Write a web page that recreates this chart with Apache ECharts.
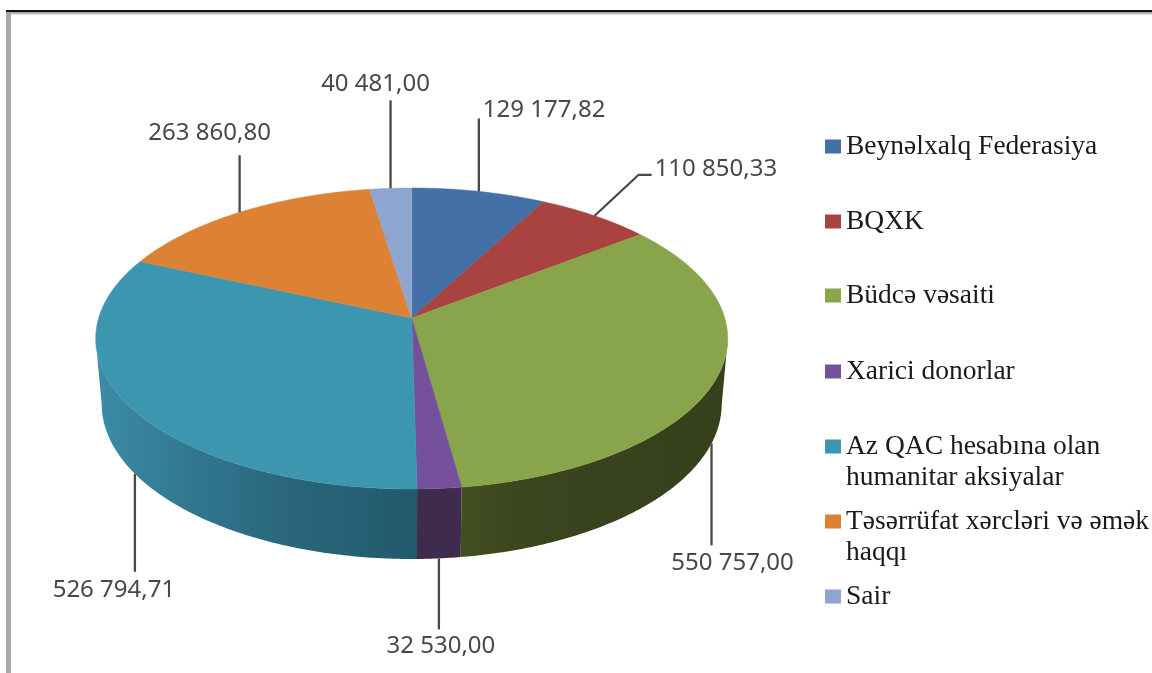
<!DOCTYPE html>
<html><head><meta charset="utf-8">
<style>html,body{margin:0;padding:0;background:#fff}#c{width:1152px;height:673px}</style>
<script src="https://cdn.jsdelivr.net/npm/echarts@6/dist/echarts.min.js"></script>
</head><body><div id="c"></div>
<script>
const categories = ['Beynəlxalq Federasiya','BQXK','Büdcə vəsaiti','Xarici donorlar','Az QAC hesabına olan\nhumanitar aksiyalar','Təsərrüfat xərcləri və əmək\nhaqqı','Sair'];
const values = [129177.82,110850.33,550757.00,32530.00,526794.71,263860.80,40481.00];

const topColors = ['#4470a8','#a94342','#88a54b','#75509b','#3d96b0','#dd8235','#8ea5d0'];
const wallStops = {
  2: [[0,'#434e21'],[0.25,'#3a451e'],[1,'#36411c']],
  3: [[0,'#3e2b4e'],[1,'#3e2b4e']],
  4: [[0,'#3b8ca8'],[0.3,'#32778f'],[0.65,'#28647a'],[1,'#225a6c']]
};
const labelInk = '#484848';

// projection of the tilted disc
const TOP = {cx:411.7, cy:338.5, rx:316, ry:150.5};
const BOT = {cx:411.7, cy:404, rx:310, ry:155};
const APEX = -0.136; // the pie's centre is seen above the middle of the ellipse
const total = values.reduce((a,b)=>a+b,0);
const starts = values.reduce((acc,v,i)=>{acc.push(i?acc[i-1]+values[i-1]:0);return acc;},[]);
function project(frac){ // -> unit-ellipse coordinates
  const a=frac*2*Math.PI, x=Math.sin(a), y=-Math.cos(a);
  const den=1+APEX*y;
  return [x*Math.sqrt(1-APEX*APEX)/den,(y+APEX)/den];
}
const rim=(E,u)=>[E.cx+E.rx*u[0],E.cy+E.ry*u[1]];
const apexPt=[TOP.cx,TOP.cy+TOP.ry*APEX];
const fmt=v=>{const s=v.toFixed(2).split('.');return s[0].replace(/\B(?=(\d{3})+$)/g,' ')+','+s[1];};

// leader routes, relative to the slice's mid-point on its rim: path and text placement
const leaders=[
  {rim:TOP,path:[[0,-73]],text:[4,-81],align:'left'},
  {rim:TOP,path:[[44,-41],[57,-41]],text:[60,-47],align:'left'},
  {rim:BOT,path:[[0,102]],text:[21,120],align:'center'},
  {rim:BOT,path:[[0,71]],text:[2,88],align:'center'},
  {rim:BOT,path:[[0,98]],text:[-21,116],align:'center'},
  {rim:TOP,path:[[0,-57]],text:[-30,-79],align:'center'},
  {rim:TOP,path:[[0,-88]],text:[-15,-104],align:'center'}
];

function renderSlice(params,api){
  const i=params.seriesIndex, v=api.value(0);
  const f0=starts[i]/total, f1=f0+v/total, n=Math.max(4,Math.ceil((f1-f0)*720));
  const us=[];
  for(let k=0;k<=n;k++) us.push(project(f0+(f1-f0)*k/n));
  const children=[];
  // side wall (only where the rim faces the viewer)
  const front=us.filter(u=>u[1]>=-0.001);
  if(front.length>1){
    const pts=front.map(u=>rim(TOP,u)).concat(front.slice().reverse().map(u=>rim(BOT,u)));
    const xs=pts.map(p=>p[0]);
    const x0=Math.min(...xs),x1=Math.max(...xs);
    const stops=wallStops[i]||[[0,topColors[i]],[1,topColors[i]]];
    children.push({type:'polygon',shape:{points:pts},z2:1,
      style:{fill:{type:'linear',x:x0,y:0,x2:x1,y2:0,global:true,
        colorStops:stops.map(s=>({offset:s[0],color:s[1]}))}}});
  }
  // top face
  children.push({type:'polygon',shape:{points:[apexPt].concat(us.map(u=>rim(TOP,u)))},z2:2,
    style:{fill:topColors[i],stroke:topColors[i],lineWidth:0.5}});
  // leader and value
  const L=leaders[i], a=rim(L.rim,project((f0+f1)/2));
  children.push({type:'polyline',shape:{points:[a].concat(L.path.map(p=>[a[0]+p[0],a[1]+p[1]]))},z2:3,
    style:{stroke:labelInk,lineWidth:2.3,fill:null}});
  children.push({type:'text',z2:4,x:a[0]+L.text[0],y:a[1]+L.text[1],
    style:{text:fmt(v),fill:labelInk,font:'24px "Noto Sans"',textAlign:L.align,textVerticalAlign:'middle'}});
  return {type:'group',children};
}

// legend rows, top of each text block
const legendTops=[131,206,280,356,431,506,581];
const plainIcon='path://M0 0h16v14h-16z';
const tallIcon='path://M0 0h16v14h-16zM0 45h16z';

const chart=echarts.init(document.getElementById('c'),null,{renderer:'canvas'});
chart.setOption({
  animation:false,
  backgroundColor:'#ffffff',
  legend:categories.map((name,i)=>{
    const two=name.indexOf('\n')>=0;
    return {data:[{name,icon:two?tallIcon:plainIcon}],left:825,top:legendTops[i],padding:0,orient:'vertical',
      selectedMode:false,itemWidth:16,itemHeight:two?45:14,
      textStyle:{fontFamily:'"Liberation Serif"',fontSize:27.5,lineHeight:31,color:'#1a1a1a'}};
  }),
  graphic:[
    {type:'rect',shape:{x:6,y:10,width:1146,height:2.5},style:{fill:'#111'},silent:true},
    {type:'rect',shape:{x:6,y:12.5,width:1146,height:2},style:{fill:'#bdbdbd'},silent:true},
    {type:'rect',shape:{x:6,y:12,width:5,height:661},style:{fill:'#a8a8a8'},silent:true}
  ],
  series:categories.map((name,i)=>({
    type:'custom',name,coordinateSystem:'none',
    itemStyle:{color:topColors[i]},
    renderItem:renderSlice,
    data:[[values[i]]]
  }))
});
</script></body></html>
